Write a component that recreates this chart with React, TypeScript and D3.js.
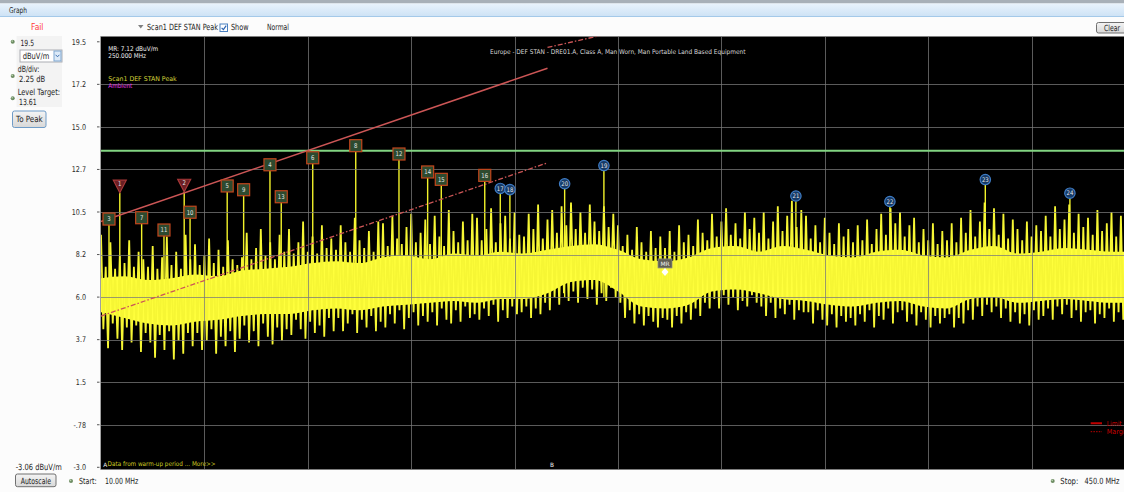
import React, { useLayoutEffect, useRef, useState } from "react";
import * as d3 from "d3";

const W = 1124;
const H = 492;

const freqStart = 10;
const freqStop = 450;
const freqDivs = [54, 98, 142, 186, 230, 274, 318, 362, 406];
const yTickValues = [19.5, 17.25, 15, 12.75, 10.5, 8.25, 6, 3.75, 1.5, -0.75, -3];
const yTickLabels = ["19.5", "17.2", "15.0", "12.7", "10.5", "8.2", "6.0", "3.7", "1.5", "-.78", "-3.0"];

const levelTargetLabel = "13.61";
const levelLineValue = 13.74;

const limitSegments = [
  [[10, 10.0], [200, 18.1]],
  [[200, 24.2], [450, 31.2]],
];
const marginSegments = [
  [[10, 5.0], [200, 13.1]],
  [[200, 19.2], [450, 26.2]],
];

const markerIds = [1, 2, 3, 4, 5, 6, 7, 8, 9, 10, 11, 12, 13, 14, 15, 16, 17, 18, 19, 20, 21, 22, 23, 24];
const markerFreqs = [18.0, 45.4, 13.4, 81.9, 63.7, 100.1, 27.3, 118.4, 70.7, 47.9, 36.8, 136.8, 86.7, 149.0, 154.8, 173.3, 179.9, 184.0, 224.0, 207.3, 305.7, 345.7, 386.3, 422.3];
const markerLevels = [11.52, 11.57, 9.81, 12.68, 11.56, 13.05, 9.88, 13.69, 11.36, 10.17, 9.23, 13.25, 10.99, 12.3, 11.91, 12.12, 11.47, 11.41, 12.68, 11.72, 11.07, 10.78, 11.94, 11.22];
const markerKinds = ["fail", "fail", "margin", "margin", "margin", "margin", "margin", "margin", "margin", "margin", "margin", "margin", "margin", "margin", "margin", "margin", "pass", "pass", "pass", "pass", "pass", "pass", "pass", "pass"];

const mrFreq = 250;
const mrLevel = 7.12;

// solid core of the noise trace, every 10 MHz from 10 to 450
const bodyTop = [7.0, 7.1, 6.9, 7.0, 7.2, 7.1, 7.4, 7.5, 7.6, 7.8, 7.9, 7.8, 8.1, 8.2, 8.0, 8.3, 8.2, 8.4, 8.3, 8.5, 8.7, 8.8, 8.5, 8.0, 7.9, 8.1, 8.6, 8.7, 8.4, 8.7, 8.5, 8.2, 8.1, 8.4, 8.5, 8.2, 8.1, 8.5, 8.7, 8.3, 8.4, 8.6, 8.5, 8.4, 8.4];
const bodyBottom = [5.2, 4.9, 4.6, 4.5, 4.7, 4.8, 5.0, 5.1, 5.1, 5.3, 5.4, 5.3, 5.5, 5.6, 5.7, 5.8, 5.7, 5.9, 5.9, 6.2, 6.8, 6.9, 6.3, 5.5, 5.4, 5.6, 6.3, 6.4, 6.2, 5.9, 5.8, 5.6, 5.5, 5.7, 5.8, 5.5, 5.4, 5.9, 6.0, 5.7, 5.8, 5.9, 5.8, 5.7, 5.7];

// noise peaks (even MHz) and troughs (following odd MHz), 10 to 450 MHz
const tipHigh = [
  9.3, 7.6, 8.9, 7.5, 8.2, 7.8, 9.0, 7.6, 8.4, 8.0,
  7.6, 8.7, 7.5, 8.1, 9.2, 7.7, 8.4, 7.5, 9.3, 8.0,
  8.8, 7.7, 8.2, 9.1, 7.8, 8.5, 7.6, 9.0, 8.0, 7.7,
  8.1, 9.4, 8.0, 8.6, 9.6, 8.2, 8.9, 8.0, 9.3, 8.4,
  9.6, 8.3, 8.9, 10.0, 8.4, 9.2, 8.3, 9.8, 8.6, 9.1,
  8.5, 9.8, 8.9, 8.4, 10.2, 9.0, 8.6, 9.5, 8.4, 10.0,
  9.9, 8.7, 10.3, 9.1, 8.8, 9.7, 10.4, 8.9, 9.4, 10.1,
  8.8, 10.3, 9.2, 8.7, 10.6, 9.5, 8.9, 10.0, 9.0, 10.4,
  10.2, 9.0, 9.6, 10.7, 8.9, 9.9, 10.3, 9.1, 10.5, 9.3,
  9.2, 10.4, 9.6, 10.9, 9.1, 10.1, 10.6, 9.4, 10.8, 9.8,
  11.0, 9.6, 10.5, 9.4, 10.9, 10.0, 9.5, 10.8, 9.7, 10.4,
  9.8, 8.7, 9.3, 8.5, 9.7, 8.9, 8.4, 9.5, 8.6, 9.2,
  8.6, 9.5, 8.4, 9.8, 8.9, 9.3, 8.7, 10.1, 9.4, 9.0,
  10.4, 9.2, 10.0, 10.7, 9.3, 9.9, 9.1, 10.5, 9.6, 10.2,
  9.4, 10.5, 9.1, 10.0, 10.8, 9.5, 10.3, 11.1, 9.7, 10.6,
  10.3, 9.1, 9.8, 8.9, 10.2, 9.4, 8.8, 9.9, 9.2, 9.6,
  8.9, 9.8, 9.0, 10.1, 8.8, 9.6, 10.4, 9.3, 10.7, 9.9,
  10.5, 9.2, 9.8, 10.2, 8.9, 9.6, 9.0, 9.9, 8.8, 9.5,
  9.0, 9.9, 8.9, 10.2, 9.4, 10.6, 9.2, 10.0, 11.0, 9.6,
  10.7, 9.3, 10.4, 9.1, 10.1, 9.6, 9.0, 10.0, 9.2, 9.8,
  9.5, 10.3, 9.2, 10.8, 9.6, 10.1, 10.9, 9.4, 10.4, 9.7,
  10.2, 9.3, 10.6, 9.5, 9.9, 10.5, 9.2, 10.3, 9.6, 10.0,
  9.8,
];
const tipLow = [
  4.3, 3.3, 4.6, 3.8, 3.2, 4.4, 3.6, 4.5, 3.1, 4.1,
  3.6, 2.8, 4.0, 3.2, 4.2, 2.7, 3.7, 3.0, 4.1, 3.4,
  4.1, 3.2, 3.7, 4.3, 3.0, 3.9, 3.4, 4.2, 3.1, 3.8,
  4.5, 3.6, 4.2, 3.4, 4.6, 3.9, 3.5, 4.4, 3.7, 4.3,
  4.0, 4.8, 4.3, 3.8, 4.7, 4.1, 4.5, 3.9, 4.9, 4.2,
  4.9, 4.2, 4.6, 5.1, 4.1, 4.8, 4.4, 5.0, 4.2, 4.7,
  4.4, 5.1, 4.6, 5.3, 4.3, 4.9, 5.2, 4.5, 5.0, 4.7,
  5.2, 4.5, 5.4, 4.8, 4.6, 5.3, 4.7, 5.5, 4.9, 5.1,
  4.8, 5.4, 5.0, 5.6, 4.7, 5.3, 4.9, 5.5, 5.1, 5.2,
  5.5, 4.9, 5.4, 5.1, 5.7, 5.3, 6.0, 5.6, 6.2, 5.8,
  6.3, 5.7, 6.5, 5.9, 6.4, 5.6, 6.2, 5.8, 6.5, 6.0,
  5.7, 4.9, 5.3, 4.6, 5.1, 4.5, 5.0, 4.7, 4.4, 4.9,
  4.8, 4.4, 5.0, 4.6, 5.2, 4.8, 5.4, 5.0, 5.7, 5.4,
  5.9, 5.4, 6.1, 5.6, 6.0, 5.3, 5.8, 5.5, 6.1, 5.7,
  5.5, 5.0, 5.7, 4.9, 5.4, 5.1, 5.6, 4.8, 5.3, 5.2,
  5.2, 4.6, 5.3, 4.8, 4.5, 5.1, 4.4, 5.0, 4.7, 4.9,
  4.5, 5.1, 4.7, 5.3, 4.4, 5.0, 4.8, 5.4, 4.6, 5.2,
  5.3, 4.7, 5.1, 4.5, 5.2, 4.8, 4.4, 5.0, 4.6, 4.9,
  5.1, 4.4, 4.9, 4.6, 5.3, 4.8, 5.5, 5.0, 5.6, 5.2,
  5.5, 4.9, 5.4, 4.7, 5.2, 4.6, 5.1, 4.5, 5.3, 4.8,
  5.0, 5.4, 4.8, 5.5, 5.1, 5.6, 4.9, 5.3, 4.7, 5.2,
  5.3, 4.6, 5.1, 4.9, 5.4, 4.7, 5.2, 4.8, 5.0, 4.9,
  5.0,
];

const bodyFreqs = d3.range(10, 451, 10);
const tipFreqs = d3.range(10, 451, 2);

const FONT = "'DejaVu Sans', Verdana, sans-serif";

// text squeezed horizontally to a measured width (the reference UI font is condensed)
function T({ x, y, w, size = 8.5, fill = "#1e1e1e", children }: any) {
  const ref = useRef<SVGTextElement>(null);
  const [sx, setSx] = useState(0.76);
  useLayoutEffect(() => {
    if (w && ref.current) {
      const len = ref.current.getComputedTextLength();
      if (len > 0) setSx(w / len);
    }
  }, [w, children]);
  return (
    <text ref={ref} transform={`translate(${x},${y}) scale(${w ? sx : 1},1)`} fontSize={size} fill={fill}>
      {children}
    </text>
  );
}

function Bullet({ cx, cy }: any) {
  return (
    <g>
      <circle cx={cx} cy={cy} r={2} fill="#6d8c63" />
      <circle cx={cx - 0.5} cy={cy - 0.6} r={0.8} fill="#b9d3ad" />
    </g>
  );
}

function Button({ x, y, w, h, label, tx, tw, ty, focus }: any) {
  return (
    <g>
      <rect x={x} y={y} width={w} height={h} rx={2} fill="url(#btn)" stroke={focus ? "#6f9cc8" : "#707070"} strokeWidth={1} />
      <T x={tx} y={ty} w={tw} size={8.5}>{label}</T>
    </g>
  );
}

export default function App() {
  const x = d3.scaleLinear().domain([freqStart, freqStop]).range([101, 1135]);
  const y = d3.scaleLinear().domain([19.5, -3]).range([41.8, 467.3]);

  const plotL = 100.5;
  const plotT = 36.5;
  const plotB = 469.5;

  const bodyArea = d3
    .area<number>()
    .x((_, i) => x(bodyFreqs[i]))
    .y0((_, i) => y(bodyBottom[i]))
    .y1((_, i) => y(bodyTop[i]))
    .curve(d3.curveMonotoneX)(bodyTop as any);

  // zigzag trace: peak at even MHz, trough at the following odd MHz
  const zig: [number, number][] = [];
  tipFreqs.forEach((f, i) => {
    zig.push([x(f), y(tipHigh[i])]);
    zig.push([x(f + 1), y(tipLow[i])]);
  });
  const zigPath = d3.line()(zig) || "";

  const seg = d3
    .line<number[]>()
    .x((d) => x(d[0]))
    .y((d) => y(d[1]));

  return (
    <svg
      width={W}
      height={H}
      style={{ position: "absolute", left: 0, top: 0, background: "#fcfcfc" }}
      fontFamily={FONT}
    >
      <defs>
        <linearGradient id="hdr" x1="0" y1="0" x2="0" y2="1">
          <stop offset="0" stopColor="#e9f3fc" />
          <stop offset="1" stopColor="#cde2f5" />
        </linearGradient>
        <linearGradient id="btn" x1="0" y1="0" x2="0" y2="1">
          <stop offset="0" stopColor="#f4f4f4" />
          <stop offset="1" stopColor="#d8d8d8" />
        </linearGradient>
        <clipPath id="plotClip">
          <rect x={plotL} y={plotT} width={W - plotL} height={plotB - plotT} />
        </clipPath>
      </defs>

      {/* header */}
      <rect x={0} y={0} width={W} height={3.5} fill="#a8b0b8" />
      <rect x={0} y={3.5} width={W} height={13} fill="url(#hdr)" />
      <line x1={0} x2={W} y1={16.5} y2={16.5} stroke="#a4c9e9" />
      <T x={9} y={13} w={18} size={8}>Graph</T>

      {/* top controls */}
      <T x={31} y={29.5} w={12.5} size={9} fill="#ff3a3a">Fail</T>
      <polygon points="138,25 143.5,25 140.75,28.5" fill="#808080" />
      <T x={147} y={29.5} w={71} size={8.5}>Scan1 DEF STAN Peak</T>
      <rect x={220} y={24} width={7.5} height={7.5} fill="#ffffff" stroke="#4a80c0" />
      <path d="M221.6 27.8 L223.4 29.6 L226.2 25.6" fill="none" stroke="#2a62b0" strokeWidth={1.2} />
      <T x={231} y={29.5} w={17.5} size={8.5}>Show</T>
      <T x={267} y={29.5} w={22} size={8.5}>Normal</T>
      <Button x={1096.5} y={22.5} w={32} h={10.5} label="Clear" tx={1104} tw={16} ty={30.5} />

      {/* left panel */}
      <rect x={16.5} y={36} width={45.5} height={71} fill="#f3f3f3" />
      <Bullet cx={12.7} cy={41.7} />
      <T x={20.5} y={45.5} w={13.5}>19.5</T>
      <rect x={20} y={50} width={42} height={12} fill="#ffffff" stroke="#abadb3" />
      <T x={22.7} y={59} w={26.6}>dBuV/m</T>
      <rect x={54} y={51} width={7} height={10} fill="#dceaf8" stroke="#7fa7d2" />
      <path d="M55.6 54.8 L57.5 56.8 L59.4 54.8" fill="none" stroke="#3a6db0" strokeWidth={1} />
      <T x={17.7} y={72} w={21.6}>dB/div:</T>
      <Bullet cx={12.7} cy={76} />
      <T x={19} y={82} w={26.3}>2.25 dB</T>
      <T x={17.7} y={95} w={42.3}>Level Target:</T>
      <Bullet cx={12.7} cy={98.3} />
      <T x={19} y={104.5} w={17.7}>{levelTargetLabel}</T>
      <Button x={12.5} y={111} w={33.5} h={16.5} label="To Peak" tx={16} tw={26.7} ty={122} focus />

      {/* y axis labels & ticks */}
      {yTickValues.map((v, i) => (
        <g key={"yt" + i}>
          <text
            transform={`translate(86,${y(v) + 2.8}) scale(0.8,1)`}
            textAnchor="end"
            fontSize={8}
            fill="#2a2a2a"
          >
            {yTickLabels[i]}
          </text>
          <line x1={97} x2={99.5} y1={y(v)} y2={y(v)} stroke="#555" />
        </g>
      ))}

      {/* plot */}
      <rect x={plotL} y={plotT} width={W - plotL} height={plotB - plotT} fill="#000000" />
      <g clipPath="url(#plotClip)">
        {/* marker stems */}
        {markerFreqs.map((f, i) => (
          <line
            key={"st" + i}
            x1={x(f)}
            x2={x(f)}
            y1={y(markerLevels[i])}
            y2={y(6)}
            stroke="#f2f22a"
            strokeWidth={1.4}
          />
        ))}
        {/* trace core */}
        <path d={bodyArea || ""} fill="#ffff3c" />
        {/* noisy trace */}
        <path d={zigPath} fill="none" stroke="#f6f634" strokeWidth={1.8} strokeLinejoin="miter" strokeMiterlimit={2} />

        {/* grid */}
        {freqDivs.map((f, i) => (
          <line key={"vg" + i} x1={Math.round(x(f)) + 0.5} x2={Math.round(x(f)) + 0.5} y1={plotT} y2={plotB} stroke="#7a7a7a" strokeOpacity={0.75} />
        ))}
        {yTickValues.slice(1, -1).map((v, i) => (
          <line key={"hg" + i} x1={plotL} x2={W} y1={Math.round(y(v)) + 0.5} y2={Math.round(y(v)) + 0.5} stroke="#7a7a7a" strokeOpacity={0.75} />
        ))}

        {/* level target */}
        <line x1={plotL} x2={W} y1={y(levelLineValue)} y2={y(levelLineValue)} stroke="#82d482" strokeWidth={2.2} />

        {/* limit & margin */}
        {limitSegments.map((s, i) => (
          <path key={"lim" + i} d={seg(s as any) || ""} fill="none" stroke="#cc5656" strokeWidth={1.5} />
        ))}
        {marginSegments.map((s, i) => (
          <path key={"mar" + i} d={seg(s as any) || ""} fill="none" stroke="#cc5656" strokeWidth={1.3} strokeDasharray="5,2,1.5,2" />
        ))}

        {/* markers */}
        {markerIds.map((id, i) => {
          const cx = x(markerFreqs[i]);
          const py = y(markerLevels[i]);
          const kind = markerKinds[i];
          const label = String(id);
          const tw = label.length * 3.4;
          if (kind === "fail") {
            return (
              <g key={"mk" + id}>
                <polygon
                  points={`${cx - 6.5},${py - 12.5} ${cx + 6.5},${py - 12.5} ${cx},${py}`}
                  fill="#6b1f24"
                  stroke="#a83838"
                  strokeWidth={1.2}
                />
                <T x={cx - tw / 2} y={py - 6.8} w={tw} size={6.5} fill="#e6e6e6">{label}</T>
              </g>
            );
          }
          if (kind === "margin") {
            return (
              <g key={"mk" + id}>
                <rect x={cx - 6} y={py - 12} width={12} height={12} fill="#2d4a2f" stroke="#c2461c" strokeWidth={1.2} />
                <T x={cx - tw / 2} y={py - 3.6} w={tw} size={6.5} fill="#e6e6e6">{label}</T>
              </g>
            );
          }
          return (
            <g key={"mk" + id}>
              <circle cx={cx} cy={py - 5.2} r={5.2} fill="#163a66" stroke="#3f7cc4" strokeWidth={1.2} />
              <T x={cx - tw / 2} y={py - 2.9} w={tw} size={6.3} fill="#e6e6e6">{label}</T>
            </g>
          );
        })}

        {/* MR marker */}
        <rect x={x(mrFreq) - 7} y={y(mrLevel) - 17} width={14} height={9} fill="#5e5e52" stroke="#8a8a7a" strokeWidth={0.8} />
        <T x={x(mrFreq) - 4.6} y={y(mrLevel) - 10} w={9.2} size={6} fill="#f0f0f0">MR</T>
        <polygon
          points={`${x(mrFreq)},${y(mrLevel) - 8} ${x(mrFreq) + 3.5},${y(mrLevel) - 4} ${x(mrFreq)},${y(mrLevel)} ${x(mrFreq) - 3.5},${y(mrLevel) - 4}`}
          fill="#ffffff"
        />

        {/* in-plot texts */}
        <T x={108.3} y={50.7} w={50} size={6.5} fill="#f2f2f2">MR: 7.12 dBuV/m</T>
        <T x={108.3} y={57.5} w={37.7} size={6.5} fill="#f2f2f2">250.000 MHz</T>
        <T x={108.3} y={80.7} w={68.4} size={6.5} fill="#d6d63a">Scan1 DEF STAN Peak</T>
        <T x={108.3} y={87.5} w={24} size={6.5} fill="#e83ce8">Ambient</T>
        <T x={490} y={53.5} w={255.7} size={6.5} fill="#d8d8d8">
          Europe - DEF STAN - DRE01.A, Class A, Man Worn, Man Portable Land Based Equipment
        </T>
        <T x={107.6} y={466} w={108} size={6.5} fill="#cccc22">Data from warm-up period ... More&gt;&gt;</T>
        <T x={103.3} y={467.3} w={4} size={6} fill="#eeeeee">A</T>
        <T x={550} y={467.3} w={4} size={6} fill="#eeeeee">B</T>

        {/* legend */}
        <line x1={1090.7} x2={1102} y1={423.3} y2={423.3} stroke="#c00000" strokeWidth={2} />
        <T x={1106.7} y={425.8} w={15} size={7} fill="#c80000">Limit</T>
        <line x1={1090.7} x2={1102} y1={431.7} y2={431.7} stroke="#c00000" strokeWidth={1} strokeDasharray="1.5,1.2" />
        <T x={1106.7} y={434.3} w={22} size={7} fill="#c80000">Margin</T>
      </g>
      <line x1={plotL} x2={plotL} y1={plotT} y2={plotB} stroke="#a0a0a0" />

      {/* bottom */}
      <T x={15.7} y={469.5} w={46}>-3.06 dBuV/m</T>
      <Button x={15.5} y={474} w={40.5} h={12.7} label="Autoscale" tx={20.7} tw={30.3} ty={484} />
      <Bullet cx={71} cy={481} />
      <T x={79} y={484} w={17.7}>Start:</T>
      <T x={105} y={484} w={33.3}>10.00 MHz</T>
      <Bullet cx={1052.7} cy={481} />
      <T x={1060.3} y={483.5} w={18}>Stop:</T>
      <T x={1084.5} y={483.5} w={35}>450.0 MHz</T>
    </svg>
  );
}
